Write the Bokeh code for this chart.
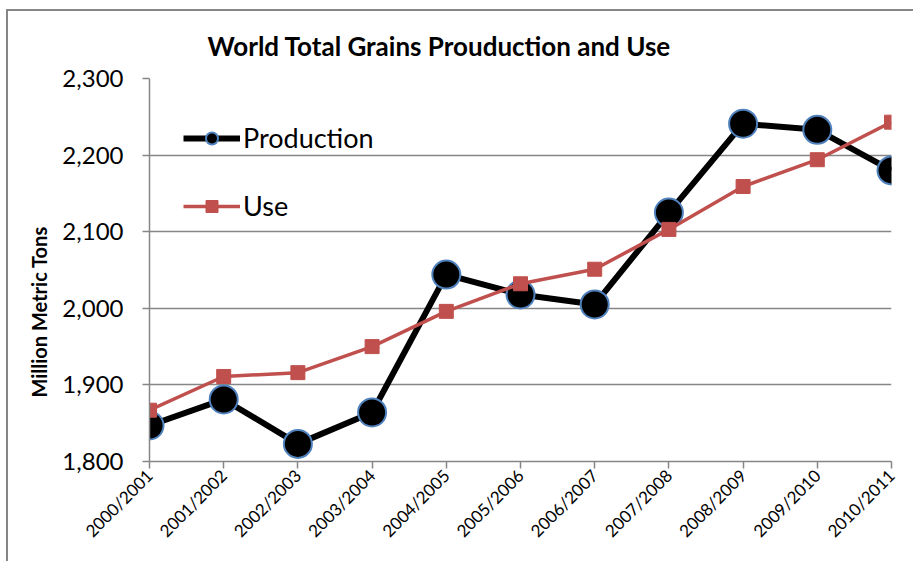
from bokeh.plotting import figure
from bokeh.models import Range1d, FixedTicker, NumeralTickFormatter, Legend, LegendItem, Title
from bokeh.embed import file_html
from bokeh.resources import INLINE

# Marketing years and world grain balance (million metric tons)
years = ["2000/2001", "2001/2002", "2002/2003", "2003/2004", "2004/2005", "2005/2006",
         "2006/2007", "2007/2008", "2008/2009", "2009/2010", "2010/2011"]
production = [1847, 1881, 1823, 1864, 2044, 2018, 2005, 2125, 2241, 2233, 2180]
use = [1867, 1911, 1916, 1950, 1996, 2032, 2051, 2103, 2159, 2194, 2243]
y_ticks = [1800, 1900, 2000, 2100, 2200, 2300]

FONT = "Lato"
GRAY = "#868686"
RED = "#C0504D"
BLUE = "#4F81BD"

xs = list(range(len(years)))

p = figure(width=907, height=552, output_backend="svg", toolbar_location=None,
           x_range=Range1d(0, len(years) - 1), y_range=Range1d(y_ticks[0], y_ticks[-1]),
           min_border_left=141, min_border_right=24, min_border_top=67, min_border_bottom=102)
p.margin = (9, 0, 0, 6)
p.styles = {"border-left": f"2px solid {GRAY}", "border-top": f"2px solid {GRAY}"}
p.outline_line_color = None
p.background_fill_color = "white"
p.border_fill_color = "white"

p.add_layout(Title(text="World Total Grains Prouduction and Use", text_font=FONT,
                   text_font_size="26px", text_font_style="bold", text_color="black",
                   align="left", offset=58, standoff=33), "above")

# x axis: categories sit on the tick marks
p.xaxis.ticker = FixedTicker(ticks=xs)
p.xaxis.major_label_overrides = {i: lab for i, lab in enumerate(years)}
p.xaxis.major_label_orientation = 0.785398
p.xaxis.major_label_text_font = FONT
p.xaxis.major_label_text_font_size = "17px"
p.xaxis.major_label_text_color = "black"
p.xaxis.axis_line_color = GRAY
p.xaxis.axis_line_width = 1.5
p.xaxis.major_tick_line_color = GRAY
p.xaxis.major_tick_line_width = 1.5
p.xaxis.major_tick_out = 7
p.xaxis.major_tick_in = 0
p.xaxis.minor_tick_line_color = None
p.xaxis.major_label_standoff = 4

# y axis
p.yaxis.ticker = FixedTicker(ticks=y_ticks)
p.yaxis.formatter = NumeralTickFormatter(format="0,0")
p.yaxis.major_label_text_font = FONT
p.yaxis.major_label_text_font_size = "24px"
p.yaxis.major_label_text_color = "black"
p.yaxis.axis_line_color = GRAY
p.yaxis.axis_line_width = 1.5
p.yaxis.major_tick_line_color = GRAY
p.yaxis.major_tick_line_width = 1.5
p.yaxis.major_tick_out = 7
p.yaxis.major_tick_in = 0
p.yaxis.minor_tick_line_color = None
p.yaxis.major_label_standoff = 19

# y axis title, set a little below the middle of the axis
p.add_layout(Title(text="Million Metric Tons", text_font=FONT,
                   text_font_size="20px", text_font_style="bold", text_color="black",
                   align="left", offset=64, standoff=18), "left")

p.xgrid.grid_line_color = None
p.ygrid.grid_line_color = GRAY
p.ygrid.grid_line_width = 1.5

# Production: thick black line with large circle markers
prod_line = p.line(xs, production, line_color="black", line_width=6)
prod_pts = p.scatter(xs, production, marker="circle", size=28, fill_color="black",
                     line_color=BLUE, line_width=2)

# Use: red line with square markers, drawn on top
use_line = p.line(xs, use, line_color=RED, line_width=3.5)
use_pts = p.scatter(xs, use, marker="square", size=14, fill_color=RED, line_color=RED)

legend = Legend(items=[LegendItem(label="Production", renderers=[prod_line, prod_pts]),
                       LegendItem(label="Use", renderers=[use_line, use_pts])],
                location=(34, 239), orientation="vertical",
                glyph_width=57, glyph_height=30, label_height=32, spacing=35,
                padding=0, margin=0, label_standoff=3,
                label_text_font=FONT, label_text_font_size="27px", label_text_color="black",
                border_line_color=None, background_fill_alpha=0)
p.add_layout(legend, "center")

open("out.html", "w").write(file_html(p, INLINE))
